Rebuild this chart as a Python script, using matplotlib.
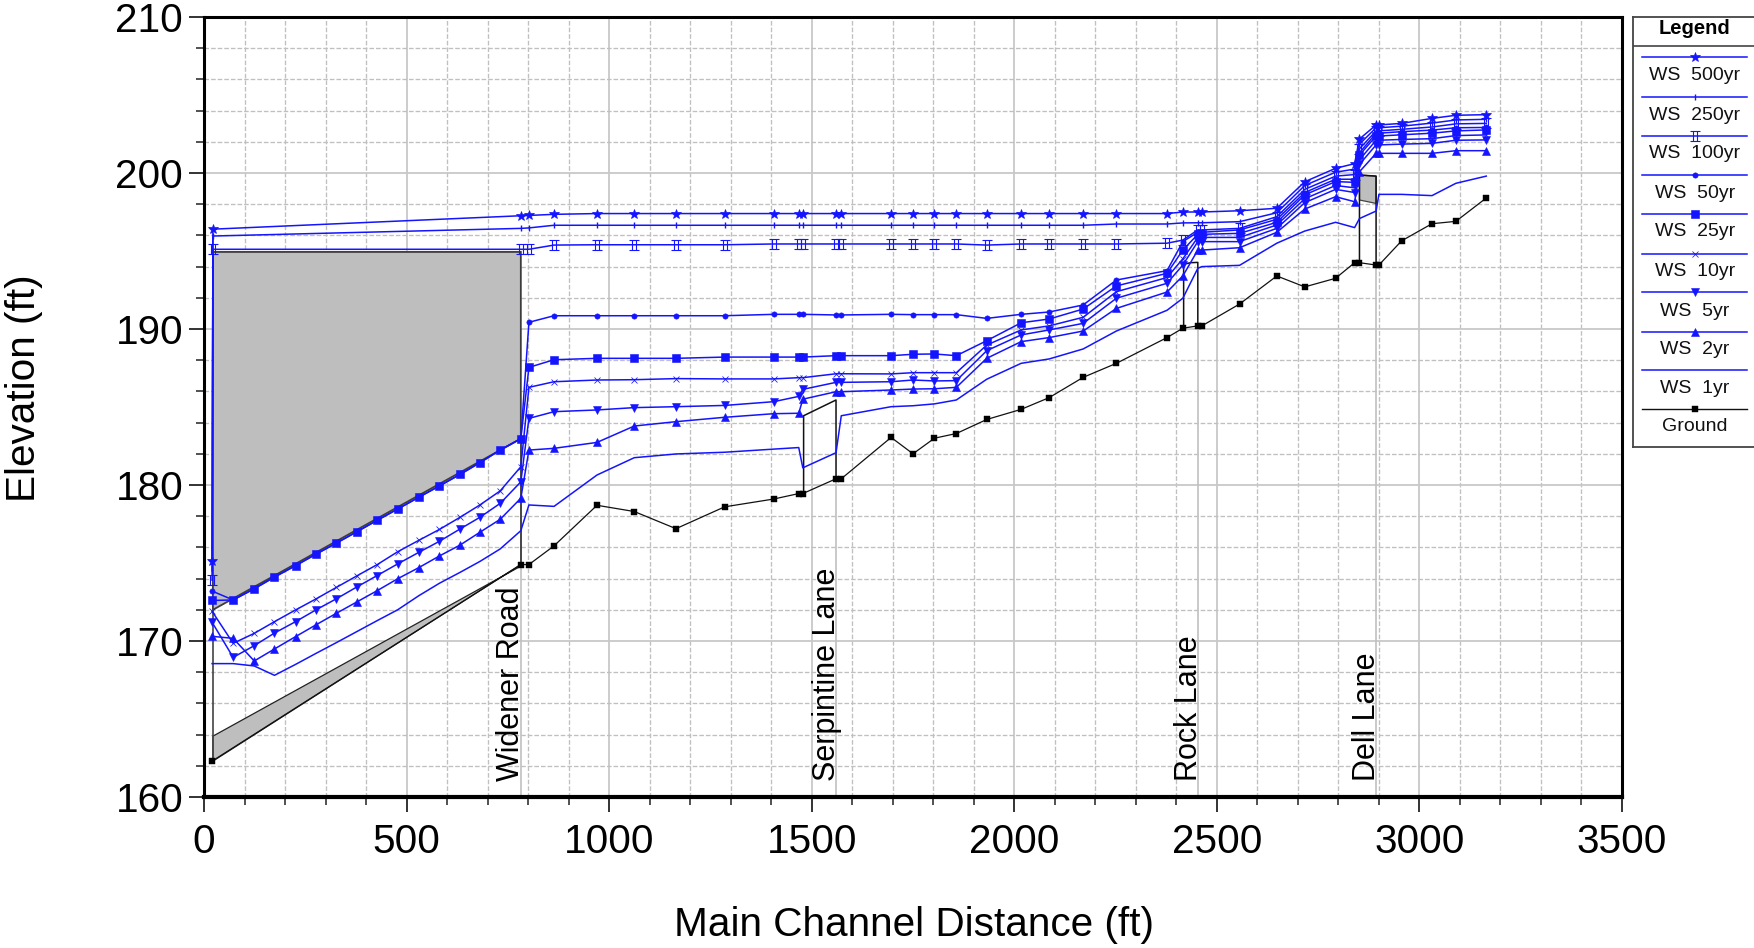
import matplotlib
matplotlib.use("Agg")
import matplotlib.pyplot as plt
from matplotlib.path import Path
from matplotlib.ticker import MultipleLocator

plt.rcParams['font.family'] = ['Liberation Sans', 'DejaVu Sans']

W, H = 1754, 948
BLUE = '#1414ff'

# stations
st_first = [20]
st_left = [72, 124, 174, 226, 276, 327, 377, 427, 478, 530, 581, 632, 681, 731]
st_right = [782, 802, 864, 970, 1062, 1165, 1285, 1406, 1468, 1478, 1560, 1573, 1696, 1750, 1803, 1857,
            1932, 2017, 2086, 2170, 2252, 2377, 2416, 2453, 2463, 2556, 2648, 2717, 2793, 2840, 2852,
            2893, 2900, 2956, 3031, 3090, 3165]
st_top = [20, 22]

# ground
ground_first = [162.3]
ground = [174.9, 174.9, 176.1, 178.7, 178.3, 177.2, 178.6, 179.1, 179.45, 179.45, 180.4, 180.4, 183.05, 182.0,
          183.0, 183.3, 184.2, 184.85, 185.6, 186.9, 187.8, 189.45, 190.05, 190.2, 190.2, 191.6, 193.4, 192.7,
          193.25, 194.25, 194.25, 194.1, 194.1, 195.65, 196.75, 196.9, 198.4]

# water surfaces
ws1 = [168.55, 168.55, 168.4, 167.8, 168.5, 169.2, 169.9, 170.6, 171.3, 172.0, 172.9, 173.7, 174.4, 175.1, 175.9,
       177.07, 178.72, 178.63, 180.64, 181.75, 181.99, 182.1, 182.3, 182.4, 181.1, 182.07, 184.44, 185.02, 185.08,
       185.2, 185.45, 186.78, 187.8, 188.08, 188.72, 189.87, 191.2, 191.97, 193.89, 194.0, 194.08, 195.5, 196.28,
       196.84, 196.5, 197.08, 197.56, 198.63, 198.63, 198.55, 199.34, 199.8]
ws2 = [170.3, 170.17, 168.72, 169.49, 170.28, 171.03, 171.78, 172.5, 173.22, 173.99, 174.7, 175.45, 176.15, 176.97, 177.8,
       179.15, 182.24, 182.35, 182.73, 183.78, 184.06, 184.34, 184.57, 184.6, 185.5, 185.98, 185.98, 186.09, 186.15,
       186.17, 186.26, 188.12, 189.19, 189.45, 189.87, 191.32, 192.37, 193.4, 195.06, 195.06, 195.21, 196.2, 197.69,
       198.48, 198.16, 200.08, 201.26, 201.26, 201.26, 201.26, 201.43, 201.43]
ws5 = [171.2, 168.95, 169.7, 170.51, 171.24, 171.99, 172.71, 173.46, 174.19, 174.94, 175.68, 176.39, 177.18, 177.93, 178.82,
       180.2, 184.27, 184.7, 184.81, 184.96, 185.02, 185.1, 185.34, 185.68, 186.13, 186.58, 186.58, 186.62, 186.73,
       186.67, 186.69, 188.61, 189.62, 189.94, 190.36, 191.97, 192.93, 194.1, 195.6, 195.6, 195.6, 196.45, 198.1,
       198.95, 198.75, 200.55, 201.8, 201.8, 201.85, 201.9, 202.1, 202.12]
ws10 = [171.9, 169.85, 170.49, 171.24, 171.99, 172.69, 173.44, 174.17, 174.89, 175.72, 176.45, 177.15, 177.93, 178.72, 179.62,
        181.17, 186.26, 186.62, 186.73, 186.75, 186.82, 186.8, 186.8, 186.88, 186.88, 187.13, 187.13, 187.12, 187.2,
        187.2, 187.2, 188.97, 189.94, 190.2, 190.75, 192.39, 193.3, 194.5, 195.87, 195.87, 195.87, 196.67, 198.35,
        199.2, 199.05, 200.85, 202.1, 202.1, 202.15, 202.2, 202.4, 202.44]
ws25 = [172.6, 172.63, 173.35, 174.1, 174.83, 175.56, 176.28, 177.0, 177.73, 178.46, 179.21, 179.94, 180.68, 181.43, 182.24,
        182.97, 187.54, 188.03, 188.12, 188.12, 188.12, 188.2, 188.2, 188.2, 188.2, 188.29, 188.29, 188.29, 188.38,
        188.4, 188.29, 189.25, 190.4, 190.64, 191.28, 192.76, 193.57, 195.06, 196.07, 196.07, 196.13, 196.84, 198.6,
        199.45, 199.4, 201.15, 202.37, 202.37, 202.45, 202.55, 202.7, 202.76]
ws50 = [173.2, 172.63, 173.35, 174.1, 174.83, 175.56, 176.28, 177.0, 177.73, 178.46, 179.21, 179.94, 180.68, 181.43, 182.24,
        182.97, 190.43, 190.85, 190.85, 190.85, 190.85, 190.85, 190.94, 190.94, 190.94, 190.9, 190.9, 190.94, 190.92,
        190.92, 190.92, 190.68, 190.94, 191.09, 191.54, 193.14, 193.74, 195.6, 196.2, 196.2, 196.35, 197.03, 198.75,
        199.6, 199.6, 201.3, 202.55, 202.55, 202.65, 202.75, 202.9, 202.92]
ws100 = [173.9, 195.11,
         195.11, 195.11, 195.38, 195.4, 195.4, 195.4, 195.4, 195.45, 195.45, 195.45, 195.45, 195.45, 195.45, 195.45,
         195.45, 195.45, 195.38, 195.45, 195.45, 195.45, 195.45, 195.5, 195.7, 196.35, 196.35, 196.45, 197.2, 198.95,
         199.8, 199.9, 201.55, 202.7, 202.7, 202.8, 202.95, 203.15, 203.18]
ws250 = [174.5, 195.96,
         196.45, 196.48, 196.65, 196.65, 196.65, 196.65, 196.65, 196.65, 196.65, 196.65, 196.65, 196.65, 196.65, 196.65,
         196.65, 196.65, 196.65, 196.65, 196.65, 196.65, 196.73, 196.73, 196.8, 196.81, 196.81, 196.88, 197.45, 199.2,
         200.05, 200.25, 201.85, 202.9, 202.9, 203.0, 203.2, 203.4, 203.44]
ws500 = [175.1, 196.4,
         197.26, 197.28, 197.35, 197.4, 197.4, 197.4, 197.4, 197.4, 197.4, 197.4, 197.4, 197.4, 197.4, 197.4,
         197.4, 197.4, 197.4, 197.4, 197.4, 197.4, 197.4, 197.4, 197.5, 197.5, 197.5, 197.58, 197.74, 199.44,
         200.3, 200.6, 202.18, 203.08, 203.08, 203.18, 203.5, 203.7, 203.74]

# culvert / bridge geometry
deck_x = [22, 782, 782, 22]
deck_y = [194.94, 194.94, 182.97, 172.0]
culvert_x = [22, 782, 782, 22]
culvert_y = [163.9, 174.8, 174.9, 162.3]
serp_x = [1480, 1480, 1560, 1560]
serp_y = [179.45, 184.44, 185.45, 180.4]
rock_x = [2418, 2418, 2435, 2453, 2453]
rock_y = [190.05, 194.15, 194.25, 194.27, 190.2]
dell_x = [2852, 2893, 2893, 2852]
dell_y = [199.87, 199.8, 198.05, 198.27]
dell_legs_x = [2852, 2852, 2893, 2893]
dell_legs_y = [194.25, 199.87, 199.8, 194.1]

road_names = ['Widener Road', 'Serpintine Lane', 'Rock Lane', 'Dell Lane']
road_st = [782, 1560, 2453, 2893]
road_ground = [174.9, 180.4, 190.2, 194.1]
road_label_x = [757, 1537, 2431, 2870]

legend_names = ['WS  500yr', 'WS  250yr', 'WS  100yr', 'WS  50yr', 'WS  25yr', 'WS  10yr', 'WS  5yr', 'WS  2yr', 'WS  1yr', 'Ground']

ibeam = Path([(-1, 1), (1, 1), (-1, -1), (1, -1), (-.4, 1), (-.4, -1), (.4, 1), (.4, -1)],
             [Path.MOVETO, Path.LINETO] * 4)

styles = {
    'WS  500yr': dict(marker='*', ms=7, mew=0.5),
    'WS  250yr': dict(marker='|', ms=5, mew=1.0),
    'WS  100yr': dict(marker=ibeam, ms=6.5, mew=0.8, mfc='none'),
    'WS  50yr': dict(marker='o', ms=3.8, mew=0.4),
    'WS  25yr': dict(marker='s', ms=5.4, mew=0.4),
    'WS  10yr': dict(marker='x', ms=5, mew=0.55),
    'WS  5yr': dict(marker='v', ms=5.4, mew=0.4),
    'WS  2yr': dict(marker='^', ms=5.4, mew=0.4),
    'WS  1yr': dict(),
}

fig = plt.figure(figsize=(W / 100, H / 100), dpi=100, facecolor='white')
L, R, T, B = 204, 1622, 17, 797
ax = fig.add_axes([L / W, 1 - B / H, (R - L) / W, (B - T) / H])
ax.set_xlim(0, 3500)
ax.set_ylim(160, 210)
ax.set_axisbelow(True)

ax.xaxis.set_major_locator(MultipleLocator(500))
ax.xaxis.set_minor_locator(MultipleLocator(100))
ax.yaxis.set_major_locator(MultipleLocator(10))
ax.yaxis.set_minor_locator(MultipleLocator(2))
ax.grid(which='major', color='#c8c8c8', lw=1.3, ls='-')
ax.grid(which='minor', color='#c0c0c0', lw=0.95, ls=(0, (3.5, 1.5)))
ax.tick_params(which='major', direction='out', length=11, width=1.4, labelsize=29.2, color='#333333')
ax.tick_params(which='minor', direction='out', length=6, width=1.2, color='#333333')
ax.tick_params(axis='x', which='major', pad=8)
ax.tick_params(axis='y', which='major', pad=4)
for s in ax.spines.values():
    s.set_linewidth(2.2)
    s.set_color('#000000')
ax.spines['bottom'].set_linewidth(3)

fig.text(914 / W, 1 - 925 / H, 'Main Channel Distance (ft)', fontsize=29.2, ha='center', va='center')
fig.text(24 / W, 1 - 388 / H, 'Elevation (ft)', fontsize=29.2, ha='center', va='center', rotation=90)

# road reference lines and labels
for x, g, name, lx in zip(road_st, road_ground, road_names, road_label_x):
    ax.plot([x, x], [160, g], color='#c0c0c0', lw=1.2, zorder=1.5)
    ax.text(lx, 161.0, name, rotation=90, ha='center', va='bottom', fontsize=22, color='black', zorder=6)

# structures
ax.fill(deck_x, deck_y, facecolor='#bebebe', edgecolor='#3c3c3c', lw=1.3, zorder=2)
ax.fill(culvert_x, culvert_y, facecolor='#bebebe', edgecolor='#222222', lw=0.9, zorder=2)
ax.plot([22, 22], [162.3, 172.0], color='#444444', lw=1.2, zorder=2)
ax.plot([782, 782], [174.9, 182.97], color='#444444', lw=1.4, zorder=2)
ax.plot(serp_x, serp_y, color='#111111', lw=1.1, zorder=2)
ax.plot(rock_x, rock_y, color='#111111', lw=1.1, zorder=2)
ax.fill(dell_x, dell_y, facecolor='#bebebe', edgecolor='#444444', lw=0.9, zorder=2)
ax.plot(dell_legs_x, dell_legs_y, color='#111111', lw=1.1, zorder=2)

# water-surface profiles
st_full = st_first + st_left + st_right
st_over = st_top + st_right
series = [('WS  1yr', st_full, ws1), ('WS  2yr', st_full, ws2), ('WS  5yr', st_full, ws5), ('WS  10yr', st_full, ws10),
          ('WS  50yr', st_full, ws50), ('WS  25yr', st_full, ws25), ('WS  100yr', st_over, ws100),
          ('WS  250yr', st_over, ws250), ('WS  500yr', st_over, ws500)]
for name, xs, ys in series:
    ax.plot(xs, ys, color=BLUE, lw=1.1, zorder=4, clip_on=False, mec=BLUE, mfc=styles[name].get('mfc', BLUE),
            **{k: v for k, v in styles[name].items() if k != 'mfc'})

ax.plot(st_first + st_right, ground_first + ground, color='#111111', lw=0.9, marker='s', ms=5.0, mfc='black', mec='black',
        mew=0.3, zorder=5)

# legend panel in pixel coordinates
leg_left, leg_top, leg_bot = 1633, 17, 447
lax = fig.add_axes([leg_left / W, 1 - leg_bot / H, (W + 6 - leg_left) / W, (leg_bot - leg_top) / H])
lax.set_xlim(leg_left, W + 6)
lax.set_ylim(leg_bot, leg_top)
lax.set_xticks([])
lax.set_yticks([])
for s in lax.spines.values():
    s.set_linewidth(1.3)
    s.set_color('#444444')
lax.plot([leg_left, W + 6], [45.7, 45.7], color='#444444', lw=1.2)
lax.text(1695, 29, 'Legend', fontsize=14.5, fontweight='bold', ha='center', va='center')
line_y = [57.3, 97.3, 135.7, 175, 214.3, 254, 292.3, 331.7, 370, 409.3]
text_y = [75, 115, 153.7, 193.3, 232, 271, 311, 349, 388, 426]
for name, ly, ty in zip(legend_names, line_y, text_y):
    if name == 'Ground':
        kw = dict(color='#111111', lw=1.0, marker='s', ms=5.0, mfc='black', mec='black', mew=0.3)
    else:
        st = styles[name]
        kw = dict(color=BLUE, lw=1.1, mec=BLUE, mfc=st.get('mfc', BLUE), **{k: v for k, v in st.items() if k != 'mfc'})
    lax.plot([1642, 1747], [ly, ly], markevery=[], **kw)
    lax.plot([1695], [ly], **kw)
    lax.text(1695, ty, name, fontsize=14, ha='center', va='center', color='#111111')

fig.savefig('out.png', dpi=100)
